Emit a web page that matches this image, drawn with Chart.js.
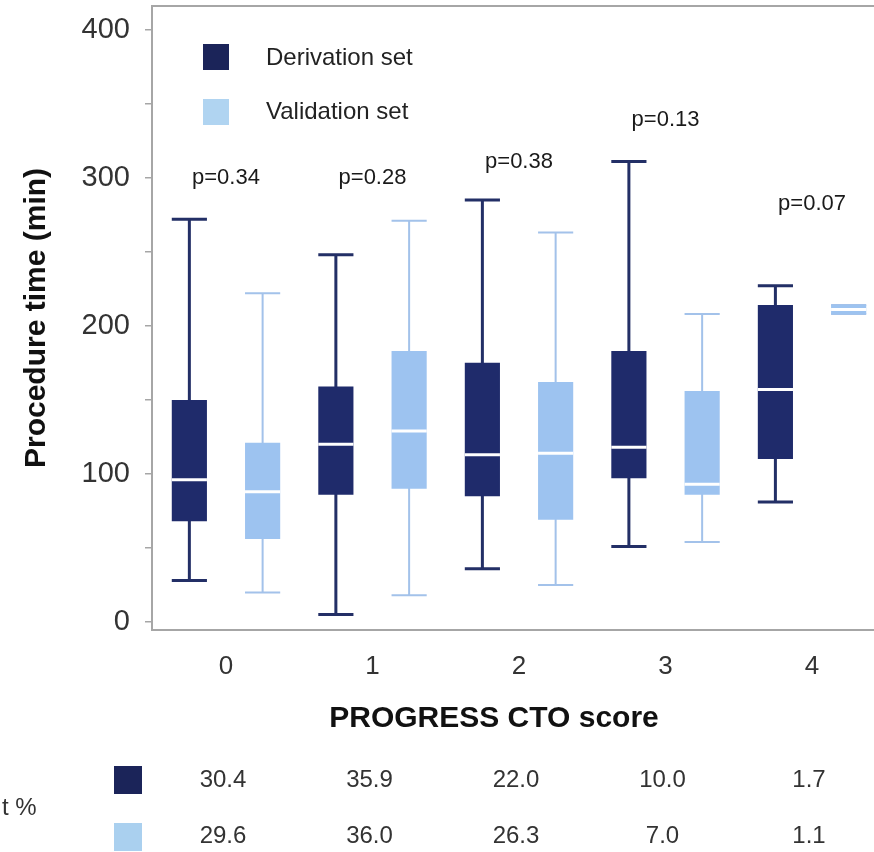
<!DOCTYPE html>
<html>
<head>
<meta charset="utf-8">
<script src="https://cdn.jsdelivr.net/npm/chart.js@4.4.1/dist/chart.umd.min.js"></script>
<style>
  html,body{margin:0;padding:0;background:#fff;overflow:hidden}
  #wrap{width:874px;height:852px;position:relative}
</style>
</head>
<body>
<div id="wrap"><canvas id="c" width="874" height="852"></canvas></div>
<script>
const scores = ['0','1','2','3','4'];

// derivation set (minutes)
const derivMin = [28, 5, 36, 51, 81];
const derivQ1  = [68, 86, 85, 97, 110];
const derivMed = [96, 120, 113, 118, 157];
const derivQ3  = [150, 159, 175, 183, 214];
const derivMax = [272, 248, 285, 311, 227];

// validation set (minutes)
const validMin = [20, 18, 25, 54, 208];
const validQ1  = [56, 90, 69, 86, 208];
const validMed = [88, 129, 114, 93, 211];
const validQ3  = [121, 183, 162, 156, 214];
const validMax = [222, 271, 263, 208, 214];

const pValues = ['p=0.34','p=0.28','p=0.38','p=0.13','p=0.07'];
const pAnchor = [300, 300, 311, 339, 282]; // minutes, where each p label sits

const derivPct = ['30.4','35.9','22.0','10.0','1.7'];
const validPct = ['29.6','36.0','26.3','7.0','1.1'];

const yLabelTicks = [0, 100, 200, 300, 400];

const DARK = '#1f2b6b', LIGHT = '#9dc3f0';
const DARK_WHISK = '#232f66', LIGHT_WHISK = '#a3c2ea';
const FONT = "'Liberation Sans', Arial, sans-serif";
Chart.defaults.font.family = FONT;

function boxSet(label, q1, q3, mn, md, mx, color, whisk, lw){
  return {
    label,
    data: scores.map((s,i)=>({x:+s, y:[q1[i], q3[i]]})),
    backgroundColor: color, borderWidth: 0, borderSkipped: false,
    categoryPercentage: 1.0, barPercentage: 0.48,
    stats: {min: mn, med: md, max: mx}, whisk, lw
  };
}

// no edge padding for labels, the plot frame sits at fixed place
function noPad(s){ s.paddingTop = 0; s.paddingBottom = 0; s.paddingLeft = 0; s.paddingRight = 0; }

const boxPlugin = {
  id: 'boxes',
  beforeDatasetsDraw(chart){
    const {ctx, chartArea:a, scales:{y}} = chart;
    // top frame line
    ctx.save();
    ctx.strokeStyle = '#a6a6a6'; ctx.lineWidth = 2;
    ctx.beginPath(); ctx.moveTo(a.left-1, a.top); ctx.lineTo(a.right, a.top); ctx.stroke();
    // whiskers and caps
    chart.data.datasets.forEach((ds, d)=>{
      const meta = chart.getDatasetMeta(d);
      ctx.strokeStyle = ds.whisk; ctx.lineWidth = ds.lw;
      meta.data.forEach((el, i)=>{
        const yMin = y.getPixelForValue(ds.stats.min[i]);
        const yMax = y.getPixelForValue(ds.stats.max[i]);
        const hw = el.width/2;
        ctx.beginPath();
        ctx.moveTo(el.x, yMin); ctx.lineTo(el.x, yMax);
        ctx.moveTo(el.x-hw, yMin); ctx.lineTo(el.x+hw, yMin);
        ctx.moveTo(el.x-hw, yMax); ctx.lineTo(el.x+hw, yMax);
        ctx.stroke();
      });
    });
    ctx.restore();
  },
  afterDatasetsDraw(chart){
    const {ctx, scales:{y}} = chart;
    ctx.save();
    ctx.strokeStyle = '#ffffff'; ctx.lineWidth = 3;
    chart.data.datasets.forEach((ds, d)=>{
      chart.getDatasetMeta(d).data.forEach((el, i)=>{
        const ym = y.getPixelForValue(ds.stats.med[i]);
        ctx.beginPath(); ctx.moveTo(el.x-el.width/2, ym); ctx.lineTo(el.x+el.width/2, ym); ctx.stroke();
      });
    });
    ctx.restore();
  },
  afterDraw(chart){
    const {ctx, chartArea:a, scales:{x, y}} = chart;
    ctx.save();
    // p values
    ctx.fillStyle = '#1a1a1a'; ctx.font = '22px ' + FONT;
    ctx.textAlign = 'center'; ctx.textBaseline = 'middle';
    pValues.forEach((p, i)=> ctx.fillText(p, x.getPixelForValue(i), y.getPixelForValue(pAnchor[i])));

    // legend inside plot
    const lx = a.left + 51, ly = a.top + 38;
    ctx.fillStyle = '#1b2459'; ctx.fillRect(lx, ly, 26, 26);
    ctx.fillStyle = '#b0d4f1'; ctx.fillRect(lx, ly + 55, 26, 26);
    ctx.fillStyle = '#222'; ctx.font = '24px ' + FONT; ctx.textAlign = 'left';
    ctx.fillText('Derivation set', lx + 63, ly + 14);
    ctx.fillText('Validation set', lx + 63, ly + 68);

    // x title
    ctx.fillStyle = '#111'; ctx.font = 'bold 30px ' + FONT; ctx.textAlign = 'center';
    ctx.fillText('PROGRESS CTO score', a.left + 342, 719);

    // percentage table
    const r1 = 780, r2 = 836;
    ctx.fillStyle = '#1b2459'; ctx.fillRect(114, r1 - 14, 28, 28);
    ctx.fillStyle = '#aad0ef'; ctx.fillRect(114, r2 - 13, 28, 28);
    ctx.fillStyle = '#333'; ctx.font = '24px ' + FONT;
    ctx.textAlign = 'left';
    ctx.fillText('t %', 2, 808);
    ctx.textAlign = 'center';
    derivPct.forEach((v, i)=> ctx.fillText(v, x.getPixelForValue(i) - 3, r1));
    validPct.forEach((v, i)=> ctx.fillText(v, x.getPixelForValue(i) - 3, r2));
    ctx.restore();
  }
};

new Chart(document.getElementById('c'), {
  type: 'bar',
  data: {
    datasets: [
      boxSet('Derivation set', derivQ1, derivQ3, derivMin, derivMed, derivMax, DARK, DARK_WHISK, 3),
      boxSet('Validation set', validQ1, validQ3, validMin, validMed, validMax, LIGHT, LIGHT_WHISK, 2)
    ]
  },
  options: {
    responsive: false, animation: false,
    layout: {padding: {top: 6, right: 0, bottom: 112, left: 0}},
    plugins: {legend: {display: false}, tooltip: {enabled: false}},
    scales: {
      x: {
        type: 'linear', min: -0.505, max: 4.423, offset: false,
        afterBuildTicks: s => { s.ticks = scores.map(v => ({value: +v})); },
        afterFit: s => { s.height = 110; noPad(s); },
        ticks: {stepSize: 1, padding: 21, color: '#333', font: {size: 26}, callback: v => scores[v]},
        grid: {display: false, drawTicks: false},
        border: {display: true, color: '#a6a6a6', width: 2}
      },
      y: {
        min: -5.4, max: 416,
        afterBuildTicks: s => {
          const t = [];
          for (let v = 0; v <= 400; v += 50) t.push({value: v});
          s.ticks = t;
        },
        afterFit: s => { s.width = 152; noPad(s); },
        ticks: {padding: 15, color: '#333', font: {size: 29},
          callback: v => yLabelTicks.includes(v) ? String(v) : ''},
        grid: {drawOnChartArea: false, drawTicks: true, tickLength: 7, color: '#a6a6a6', lineWidth: 1.5},
        border: {display: true, color: '#a6a6a6', width: 2},
        title: {display: true, text: 'Procedure time (min)', color: '#111',
          font: {size: 30, weight: 'bold'}, padding: {top: 19, bottom: 0}}
      }
    }
  },
  plugins: [boxPlugin]
});
</script>
</body>
</html>
